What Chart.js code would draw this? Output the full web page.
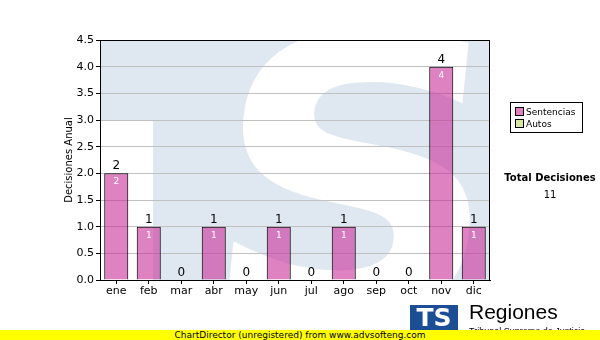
<!DOCTYPE html>
<html>
<head>
<meta charset="utf-8">
<script src="https://cdn.jsdelivr.net/npm/chart.js@4.4.0/dist/chart.umd.min.js"></script>
<style>
  body { margin: 0; background: #fff; font-family: "DejaVu Sans", Verdana, sans-serif; }
  #wrap { position: relative; width: 600px; height: 340px; overflow: hidden; }
  #legend { position: absolute; left: 510px; top: 102px; width: 73px; height: 31px; border: 1px solid #000; font-size: 9px; line-height: 12px; padding: 3px 0 0 4px; box-sizing: border-box; white-space: nowrap; }
  #legend span.sw { display: inline-block; width: 7px; height: 7px; border: 1px solid #000; margin-right: 2px; vertical-align: -1px; }
  #total { position: absolute; left: 500px; top: 172px; width: 100px; text-align: center; font-size: 10px; }
  #total b { display: block; margin-bottom: 6px; }
  #footer { position: absolute; left: 0; top: 330px; width: 600px; height: 10px; background: #ffff00; font-size: 9px; line-height: 10px; text-align: center; }
  #logo { position: absolute; left: 410px; top: 305px; }
  #logo .mark { position: absolute; left: 0; top: 0; width: 48px; height: 25px; background: #1c4e96; color: #fff; font: bold 25px "DejaVu Sans"; line-height: 25px; text-align: center; }
  #logo .name { position: absolute; left: 59px; top: -5px; font: 21px "Liberation Sans", Arial, sans-serif; color: #000; }
  #logo .sub { position: absolute; left: 59px; top: 21px; font: 9px "Liberation Sans"; white-space: nowrap; color: #000; }
</style>
</head>
<body>
<div id="wrap">
  <canvas id="mycanvas" width="600" height="340"></canvas>
  <div id="legend">
    <div><span class="sw" style="background:#e080c0"></span>Sentencias</div>
    <div><span class="sw" style="background:#d8e8a0"></span>Autos</div>
  </div>
  <div id="total"><b>Total Decisiones</b>11</div>
  <div id="logo"><div class="mark">TS</div><div class="name">Regiones</div><div class="sub">Tribunal Supremo de Justicia</div></div>
  <div id="footer">ChartDirector (unregistered) from www.advsofteng.com</div>
</div>
<script>
var months = ["ene", "feb", "mar", "abr", "may", "jun", "jul", "ago", "sep", "oct", "nov", "dic"];
var sentencias = [2, 1, 0, 1, 0, 1, 0, 1, 0, 0, 4, 1];
var autos = [0, 0, 0, 0, 0, 0, 0, 0, 0, 0, 0, 0];

// plot background with the big logo watermark, then border + value labels
var watermark = {
    id: "watermark",
    beforeDraw: function(chart) {
        var a = chart.chartArea, ctx = chart.ctx;
        ctx.save();
        ctx.beginPath();
        ctx.rect(a.left, a.top, a.right - a.left, a.bottom - a.top);
        ctx.clip();
        ctx.fillStyle = "#dfe8f1";
        ctx.fillRect(a.left, a.top, a.right - a.left, a.bottom - a.top);
        ctx.fillStyle = "#ffffff";
        ctx.fillRect(a.left, 120, 53, a.bottom - 120);
        ctx.translate(342, 318);
        ctx.transform(1.25, 0, -0.12, 1.18, 0, 0);
        ctx.font = "bold 330px 'DejaVu Sans'";
        ctx.textAlign = "center";
        ctx.fillText("S", 0, 0);
        ctx.restore();
    },
    afterDatasetsDraw: function(chart) {
        var a = chart.chartArea, ctx = chart.ctx;
        ctx.save();
        ctx.strokeStyle = "#000";
        ctx.lineWidth = 1;
        ctx.strokeRect(a.left + 0.5, a.top + 0.5, a.right - a.left - 1, a.bottom - a.top);
        var meta = chart.getDatasetMeta(0);
        ctx.textAlign = "center";
        meta.data.forEach(function(bar, i) {
            var v = sentencias[i];
            ctx.fillStyle = "#000";
            ctx.font = "12px 'DejaVu Sans'";
            ctx.textBaseline = "bottom";
            ctx.fillText(v, bar.x, bar.y - 1);
            if (v > 0) {
                ctx.fillStyle = "#fff";
                ctx.font = "9px 'DejaVu Sans'";
                ctx.textBaseline = "top";
                ctx.fillText(v, bar.x, bar.y + 4);
            }
        });
        ctx.restore();
    }
};

var chrt = document.getElementById("mycanvas").getContext("2d");
new Chart(chrt, {
    type: "bar",
    data: {
        labels: months,
        datasets: [{
            label: "Sentencias",
            data: sentencias,
            backgroundColor: "rgba(200, 40, 150, 0.58)",
            borderColor: "#000",
            borderWidth: 1,
            barPercentage: 0.74,
            categoryPercentage: 1
        }, {
            label: "Autos",
            data: autos,
            backgroundColor: "#d8e8a0",
            borderColor: "#000",
            borderWidth: 0,
            barPercentage: 0.74,
            categoryPercentage: 1
        }]
    },
    options: {
        responsive: false,
        animation: false,
        layout: { padding: { left: 63, top: 40, right: 110, bottom: 30 } },
        plugins: { legend: { display: false }, tooltip: { enabled: false } },
        scales: {
            x: {
                stacked: true,
                afterFit: function(s) { s.height = 30; },
                grid: { drawOnChartArea: false, offset: false, tickColor: "#000", tickLength: 4 },
                border: { color: "#000" },
                ticks: { color: "#000", font: { family: "DejaVu Sans", size: 11 }, padding: 1 }
            },
            y: {
                stacked: true,
                min: 0,
                max: 4.5,
                afterFit: function(s) { s.width = 37; },
                grid: { color: "#c0c0c0", tickColor: "#000", tickLength: 4 },
                border: { color: "#000" },
                title: { display: true, text: "Decisiones Anual", color: "#000", font: { family: "DejaVu Sans", size: 10 }, padding: 0 },
                ticks: {
                    stepSize: 0.5,
                    color: "#000",
                    padding: 2,
                    font: { family: "DejaVu Sans", size: 11 },
                    callback: function(v) { return v.toFixed(1); }
                }
            }
        }
    },
    plugins: [watermark]
});
</script>
</body>
</html>
